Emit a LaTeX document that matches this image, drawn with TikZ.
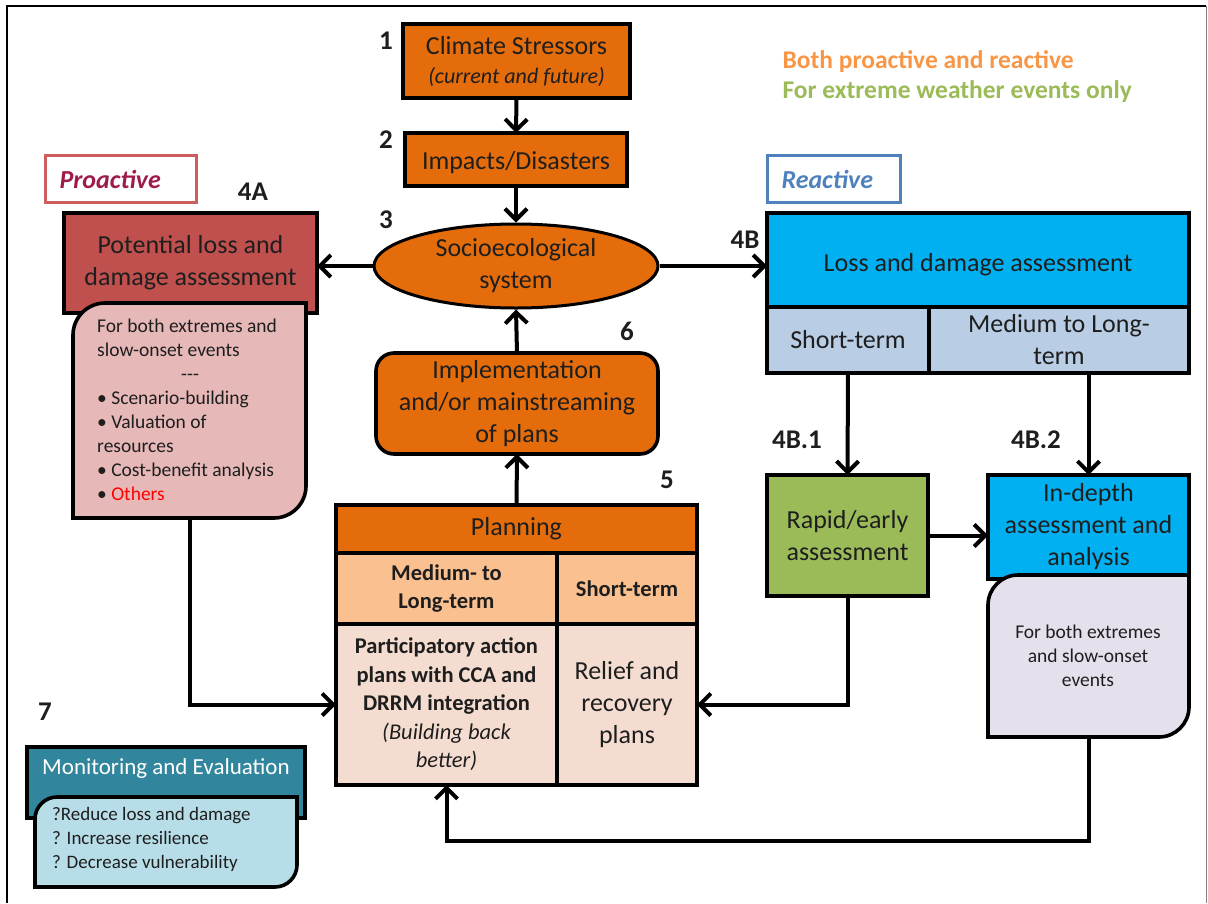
\documentclass[tikz,border=0pt]{standalone}
\usepackage{fontspec}
\setmainfont{Carlito}
\usetikzlibrary{arrows.meta,shapes.geometric,calc}
\definecolor{orng}{HTML}{E46C0A}
\definecolor{redA}{HTML}{C0504D}
\definecolor{pinkA}{HTML}{E6B9B8}
\definecolor{cyanB}{HTML}{00B0F0}
\definecolor{paleB}{HTML}{B9CDE5}
\definecolor{greenR}{HTML}{9BBB59}
\definecolor{lavI}{HTML}{E5E0EC}
\definecolor{tealM}{HTML}{31859C}
\definecolor{paleM}{HTML}{B7DEE8}
\definecolor{peach}{HTML}{FAC090}
\definecolor{peachL}{HTML}{F4DDD0}
\definecolor{proT}{HTML}{9E1B4B}
\definecolor{proB}{HTML}{CD5E5E}
\definecolor{reaB}{HTML}{4F81BD}
\definecolor{legO}{HTML}{F79646}
\definecolor{txt}{HTML}{1E1E1E}
\newcommand{\mycutbox}[3]{%
\draw[line width=3.6pt, fill=#3] (#1.south west) -- ($(#1.north west)+(0,#2)$) .. controls ($(#1.north west)+(0,0.45*#2)$) and ($(#1.north west)+(0.45*#2,0)$) .. ($(#1.north west)+(#2,0)$) -- (#1.north east) -- ($(#1.south east)+(0,-#2)$) .. controls ($(#1.south east)+(0,-0.45*#2)$) and ($(#1.south east)+(-0.45*#2,0)$) .. ($(#1.south east)+(-#2,0)$) -- cycle;}
\begin{document}
\begin{tikzpicture}[x=1pt,y=-1pt,
  bx/.style={draw, line width=3.6pt, inner sep=0pt, outer sep=0pt, anchor=north west, align=center, text=txt},
  holder/.style={inner sep=0pt, outer sep=0pt, anchor=north west},
  big/.style={font=\fontsize{26}{32}\selectfont},
  small/.style={font=\fontsize{19.5}{24}\selectfont},
  num/.style={font=\fontsize{27}{30}\selectfont\bfseries, text=txt},
  arr/.style={line width=4pt, -{Straight Barb[length=11pt,width=22pt,line width=4pt]}},
  tag/.style={inner xsep=14pt, inner ysep=0pt, align=left, anchor=north west, line width=3pt, font=\fontsize{26}{30}\selectfont\bfseries\itshape}
]
\useasboundingbox (0,0) rectangle (1208,903);
% frame
\draw[line width=2pt] (7,903) -- (7,6) -- (1206,6);
\draw[gray, line width=1pt] (1206,6) -- (1206,903);

% legend
\node[anchor=west, text=legO, font=\fontsize{25.5}{30}\selectfont\bfseries] (leg1) at (779,62) {Both proactive and reactive};
\node[anchor=west, text=greenR, font=\fontsize{25.5}{30}\selectfont\bfseries] (leg2) at (779,92) {For extreme weather events only};

% top chain
\node[bx, fill=orng, minimum width=227pt, minimum height=74pt, font=\fontsize{26}{29}\selectfont] (cs) at (403,24) {Climate Stressors\\{\fontsize{22}{29}\selectfont\itshape (current and future)}};
\node[bx, big, fill=orng, minimum width=222pt, minimum height=53pt, text height=25pt, text depth=5.5pt] (imp) at (405,133) {Impacts/Disasters};
\node[draw, ellipse, line width=3pt, fill=orng, big, align=center, text=txt, minimum width=284pt, minimum height=84pt, inner sep=0pt] (eco) at (516,266) {Socioecological\\system};
\node[bx, big, fill=orng, rounded corners=18pt, minimum width=282pt, minimum height=101pt] (impl) at (376,353) {Implementation\\and/or mainstreaming\\of plans};

% numbers
\node[num] (n1) at (386,41) {1};
\node[num] (n2) at (386,140) {2};
\node[num] (n3) at (386,220) {3};
\node[num] (n4a) at (253,192) {4A};
\node[num] (n4b) at (745,240) {4B};
\node[num] (n6) at (627,331) {6};
\node[num] (n5) at (667,480) {5};
\node[num] (n41) at (797,440) {4B.1};
\node[num] (n42) at (1036,440) {4B.2};
\node[num] (n7) at (45,712) {7};

% proactive
\node[tag, draw=proB, text=proT, text width=123pt, minimum height=47pt] (pro) at (44,154) {Proactive};
\node[bx, big, fill=redA, minimum width=253pt, minimum height=100pt] (pla) at (64,213) {Potential loss and\\damage assessment};
\node[holder, minimum width=233pt, minimum height=215pt] (subA) at (73,303) {};
\mycutbox{subA}{32}{pinkA}
\node[anchor=north west, small, align=left, inner sep=0pt, text=txt] (subAtxt) at (97,319) {For both extremes and\\slow-onset events\\\hspace*{84pt}-{}-{}-\\• Scenario-building\\• Valuation of\\resources\\• Cost-benefit analysis\\• \textcolor{red}{Others}};

% reactive
\node[tag, draw=reaB, text=reaB, text width=105pt, minimum height=47pt] (rea) at (766,154) {Reactive};
\node[bx, big, fill=cyanB, minimum width=422pt, minimum height=94pt, text height=29pt, text depth=5.5pt] (lb) at (767,213) {Loss and damage assessment};
\node[bx, big, fill=paleB, minimum width=162pt, minimum height=66pt] (lbST) at (767,307) {Short-term};
\node[bx, big, fill=paleB, minimum width=260pt, minimum height=66pt] (lbMT) at (929,307) {Medium to Long-\\term};
\node[bx, big, fill=greenR, minimum width=161pt, minimum height=121pt] (rapid) at (767,475) {Rapid/early\\assessment};
\node[bx, big, fill=cyanB, minimum width=201pt, minimum height=104pt] (ind) at (988,475) {In-depth\\assessment and\\analysis};
\node[holder, minimum width=201pt, minimum height=162pt] (subI) at (988,575) {};
\mycutbox{subI}{30}{lavI}
\node[small, align=center, text=txt] (subItxt) at (1088,656) {For both extremes\\and slow-onset\\events};

% planning
\node[bx, big, fill=orng, minimum width=361pt, minimum height=48pt] (planH) at (336,505) {Planning};
\node[bx, fill=peach, minimum width=221pt, minimum height=71pt, font=\fontsize{22.5}{28}\selectfont\bfseries] (planML) at (336,553) {Medium- to\\Long-term};
\node[bx, fill=peach, minimum width=140pt, minimum height=71pt, font=\fontsize{22.5}{28}\selectfont\bfseries] (planST) at (557,553) {Short-term};
\node[bx, fill=peachL, minimum width=221pt, minimum height=161pt, font=\fontsize{22.5}{28.5}\selectfont\bfseries] (planPA) at (336,624) {Participatory action\\plans with CCA and\\DRRM integration\\{\normalfont\itshape (Building back}\\{\normalfont\itshape better)}};
\node[bx, big, fill=peachL, minimum width=140pt, minimum height=161pt] (planRR) at (557,624) {Relief and\\recovery\\plans};

% monitoring
\node[bx, fill=tealM, minimum width=278pt, minimum height=71pt] (mon) at (27,747) {};
\node[text=white, font=\fontsize{23}{28}\selectfont] (monT) at (166,768) {Monitoring and Evaluation};
\node[holder, minimum width=262pt, minimum height=90pt] (subM) at (35,797) {};
\mycutbox{subM}{22}{paleM}
\node[anchor=north west, align=left, inner sep=0pt, text=txt, font=\fontsize{19}{24}\selectfont] (subMtxt) at (52,807) {?Reduce loss and damage\\? Increase resilience\\? Decrease vulnerability};

% connectors
\draw[arr] (cs.south) -- (imp.north);
\draw[arr] (imp.south) -- (eco.north);
\draw[arr] (eco.west) -- (eco.west -| pla.east);
\draw[arr] (eco.east) -- (eco.east -| lb.west);
\draw[arr] (impl.north) -- (eco.south);
\draw[arr] (planH.north) -- (impl.south);
\draw[arr] (lbST.south) -- (rapid.north);
\draw[arr] (ind.north |- lbMT.south) -- (ind.north);
\draw[arr] (rapid.east) -- (rapid.east -| ind.west);
\draw[arr] (rapid.south) |- (planRR.east);
\draw[arr] (subA.south) |- (planPA.west);
\draw[arr] (subI.south) -- ++(0,104) -| (planPA.south);
\end{tikzpicture}
\end{document}
